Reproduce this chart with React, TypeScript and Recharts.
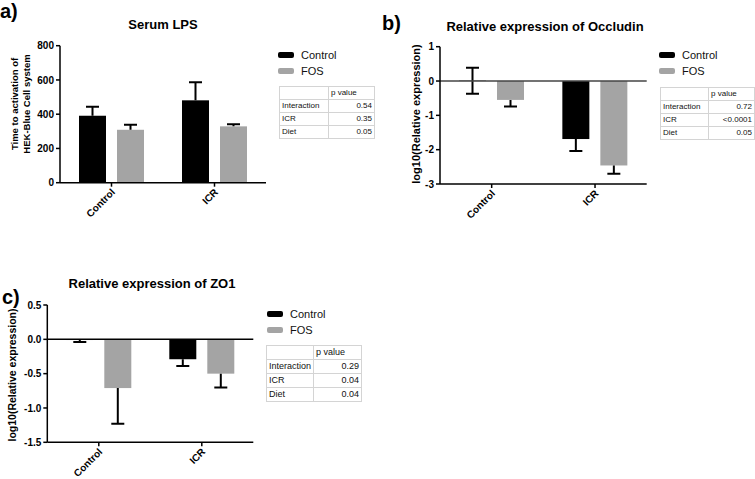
import React from 'react';
import { BarChart, Bar, XAxis, YAxis, ReferenceLine } from 'recharts';

const groups = ['Control', 'ICR'];

// Serum LPS
const lpsControl = [391, 481];
const lpsFos = [309, 329];
// error extents as [down, up]
const lpsControlErr = [[0, 53], [0, 106]];
const lpsFosErr = [[0, 30], [0, 12]];

// Occludin
const occControl = [0.01, -1.69];
const occFos = [-0.55, -2.46];
const occControlErr = [[0.38, 0.38], [0.35, 0]];
const occFosErr = [[0.19, 0], [0.24, 0]];

// ZO1
const zoControl = [-0.01, -0.29];
const zoFos = [-0.71, -0.5];
const zoControlErr = [[0.03, 0], [0.1, 0]];
const zoFosErr = [[0.52, 0], [0.2, 0]];

const pRows = ['Interaction', 'ICR', 'Diet'];
const lpsP = ['0.54', '0.35', '0.05'];
const occP = ['0.72', '<0.0001', '0.05'];
const zoP = ['0.29', '0.04', '0.04'];

const FONT = '"Liberation Sans", Arial, sans-serif';
const GRAY = '#a4a4a4';

const buildRows = (c: number[], f: number[], ce: number[][], fe: number[][]) =>
  groups.map((g, i) => ({ group: g, control: c[i], fos: f[i], controlErr: ce[i], fosErr: fe[i] }));

// bar + one-sided (GraphPad style) error bar
const errorShape = (valueKey: string, errKey: string, domain: [number, number]) => (props: any) => {
  const { x, y, width, height, fill, payload, background } = props;
  const v = payload[valueKey];
  const [lo, hi] = payload[errKey];
  const span = domain[1] - domain[0];
  let toPx: (d: number) => number;
  if (background && background.height) {
    const k = background.height / span;
    toPx = (d) => background.y + (domain[1] - d) * k;
  } else {
    const k = Math.abs(height) / Math.max(Math.abs(v), 1e-6);
    const vPx = v >= 0 ? Math.min(y, y + height) : Math.max(y, y + height);
    toPx = (d) => vPx - (d - v) * k;
  }
  const top = Math.min(toPx(0), toPx(v));
  const h = Math.abs(toPx(0) - toPx(v));
  const cx = x + width / 2;
  const y1 = toPx(v - lo);
  const y2 = toPx(v + hi);
  const cap = 6.5;
  return (
    <g>
      <rect x={x} y={top} width={width} height={h} fill={fill} />
      <line x1={cx} x2={cx} y1={y1} y2={y2} stroke="#000" strokeWidth={2} />
      {lo > 0 && <line x1={cx - cap} x2={cx + cap} y1={y1} y2={y1} stroke="#000" strokeWidth={2} />}
      {hi > 0 && <line x1={cx - cap} x2={cx + cap} y1={y2} y2={y2} stroke="#000" strokeWidth={2} />}
    </g>
  );
};

const RotTick = ({ x, y, payload }: any) => (
  <g transform={`translate(${x + 2},${y + 2})`}>
    <text transform="rotate(-45)" textAnchor="end" dy={3} fontSize={10} fontWeight="bold" fill="#000" fontFamily={FONT}>
      {payload.value}
    </text>
  </g>
);

const axisStyle = { stroke: '#000', strokeWidth: 1.5 };
const tickStyle = { fontSize: 10, fontWeight: 'bold', fill: '#000', fontFamily: FONT };

interface PanelProps {
  data: any[];
  domain: [number, number];
  ticks: number[];
  width: number;
  height: number;
  top: number;
  right: number;
  yWidth: number;
  xHeight: number;
  zeroLine?: string;
  fmt?: (v: number) => string;
}

const Panel = ({ data, domain, ticks, width, height, top, right, yWidth, xHeight, zeroLine, fmt }: PanelProps) => (
  <BarChart width={width} height={height} data={data} margin={{ top, right, left: 0, bottom: 0 }} barSize={27} barGap={11}>
    <XAxis dataKey="group" axisLine={axisStyle} tickLine={axisStyle} tickSize={4} height={xHeight} interval={0} tick={(p: any) => <RotTick {...p} />} />
    <YAxis
      type="number"
      domain={domain}
      ticks={ticks}
      width={yWidth}
      allowDataOverflow
      axisLine={axisStyle}
      tickLine={axisStyle}
      tickSize={4}
      tickMargin={2}
      tick={tickStyle}
      tickFormatter={fmt}
    />
    <Bar dataKey="control" fill="#000" isAnimationActive={false} shape={errorShape('control', 'controlErr', domain)} />
    <Bar dataKey="fos" fill={GRAY} isAnimationActive={false} shape={errorShape('fos', 'fosErr', domain)} />
    {zeroLine && <ReferenceLine y={0} stroke={zeroLine} strokeWidth={1.5} />}
  </BarChart>
);

const Legend = ({ left, top }: { left: number; top: number }) => (
  <div style={{ position: 'absolute', left, top, fontSize: 11, lineHeight: '16px', color: '#111' }}>
    {[['Control', '#000'], ['FOS', GRAY]].map(([name, c]) => (
      <div key={name} style={{ display: 'flex', alignItems: 'center' }}>
        <span style={{ display: 'inline-block', width: 16, height: 6, background: c, borderRadius: 2, marginRight: 7 }} />
        {name}
      </div>
    ))}
  </div>
);

const PTable = ({ left, top, values, w1, w2, rowH, fontSize }: any) => {
  const cell = { border: '1px solid #d4d4d4', padding: '0 2px', height: rowH, lineHeight: `${rowH}px` } as const;
  return (
    <table style={{ position: 'absolute', left, top, borderCollapse: 'collapse', fontSize, color: '#111', fontFamily: FONT }}>
      <tbody>
        <tr>
          <td style={{ ...cell, width: w1 - 4 }}></td>
          <td style={{ ...cell, width: w2 - 4 }}>p value</td>
        </tr>
        {pRows.map((r, i) => (
          <tr key={r}>
            <td style={cell}>{r}</td>
            <td style={{ ...cell, textAlign: 'right' }}>{values[i]}</td>
          </tr>
        ))}
      </tbody>
    </table>
  );
};

const Title = ({ cx, cy, children }: any) => (
  <div style={{ position: 'absolute', left: cx - 150, top: cy - 8, width: 300, textAlign: 'center', fontSize: 13, fontWeight: 'bold', lineHeight: '16px' }}>
    {children}
  </div>
);

const YLabel = ({ cx, cy, size, children }: any) => (
  <div
    style={{
      position: 'absolute',
      left: cx,
      top: cy,
      transform: 'translate(-50%, -50%) rotate(-90deg)',
      whiteSpace: 'nowrap',
      textAlign: 'center',
      fontSize: size,
      fontWeight: 'bold',
      lineHeight: '12px',
    }}
  >
    {children}
  </div>
);

const PanelTag = ({ left, top, children }: any) => (
  <div style={{ position: 'absolute', left, top, fontSize: 20, fontWeight: 'bold', lineHeight: '20px' }}>{children}</div>
);

export default function App() {
  const lpsData = buildRows(lpsControl, lpsFos, lpsControlErr, lpsFosErr);
  const occData = buildRows(occControl, occFos, occControlErr, occFosErr);
  const zoData = buildRows(zoControl, zoFos, zoControlErr, zoFosErr);

  return (
    <div style={{ position: 'absolute', left: 0, top: 0, width: 755, height: 479, background: '#fff', overflow: 'hidden', fontFamily: FONT, color: '#000' }}>
      {/* a) */}
      <PanelTag left={0} top={1}>a)</PanelTag>
      <Title cx={163} cy={25}>Serum LPS</Title>
      <YLabel cx={21} cy={104} size={9.5}>
        Time to activation of
        <br />
        HEK-Blue Cell system
      </YLabel>
      <div style={{ position: 'absolute', left: 0, top: 0 }}>
        <Panel data={lpsData} domain={[0, 800]} ticks={[0, 200, 400, 600, 800]} width={280} height={240} top={45.7} right={14} yWidth={60} xHeight={57.3} />
      </div>
      <Legend left={278} top={47} />
      <PTable left={279} top={86} values={lpsP} w1={48} w2={45} rowH={12} fontSize={8} />

      {/* b) */}
      <PanelTag left={382} top={13}>b)</PanelTag>
      <Title cx={545} cy={27}>Relative expression of Occludin</Title>
      <YLabel cx={416} cy={114} size={11}>log10(Relative expression)</YLabel>
      <div style={{ position: 'absolute', left: 380, top: 0 }}>
        <Panel data={occData} domain={[-3, 1]} ticks={[-3, -2, -1, 0, 1]} width={280} height={240} top={46.7} right={13.3} yWidth={60} xHeight={56} zeroLine="#444" />
      </div>
      <Legend left={659} top={47} />
      <PTable left={660} top={87} values={occP} w1={48} w2={47} rowH={12} fontSize={8} />

      {/* c) */}
      <PanelTag left={2} top={287}>c)</PanelTag>
      <Title cx={152} cy={284}>Relative expression of ZO1</Title>
      <YLabel cx={12} cy={375} size={10.5}>log10(Relative expression)</YLabel>
      <div style={{ position: 'absolute', left: 0, top: 280 }}>
        <Panel
          data={zoData}
          domain={[-1.5, 0.5]}
          ticks={[-1.5, -1, -0.5, 0, 0.5]}
          width={280}
          height={199}
          top={25}
          right={26.7}
          yWidth={47.3}
          xHeight={36.7}
          zeroLine="#000"
          fmt={(v: number) => v.toFixed(1)}
        />
      </div>
      <Legend left={267} top={306} />
      <PTable left={266} top={345} values={zoP} w1={46} w2={47} rowH={13} fontSize={9} />
    </div>
  );
}
